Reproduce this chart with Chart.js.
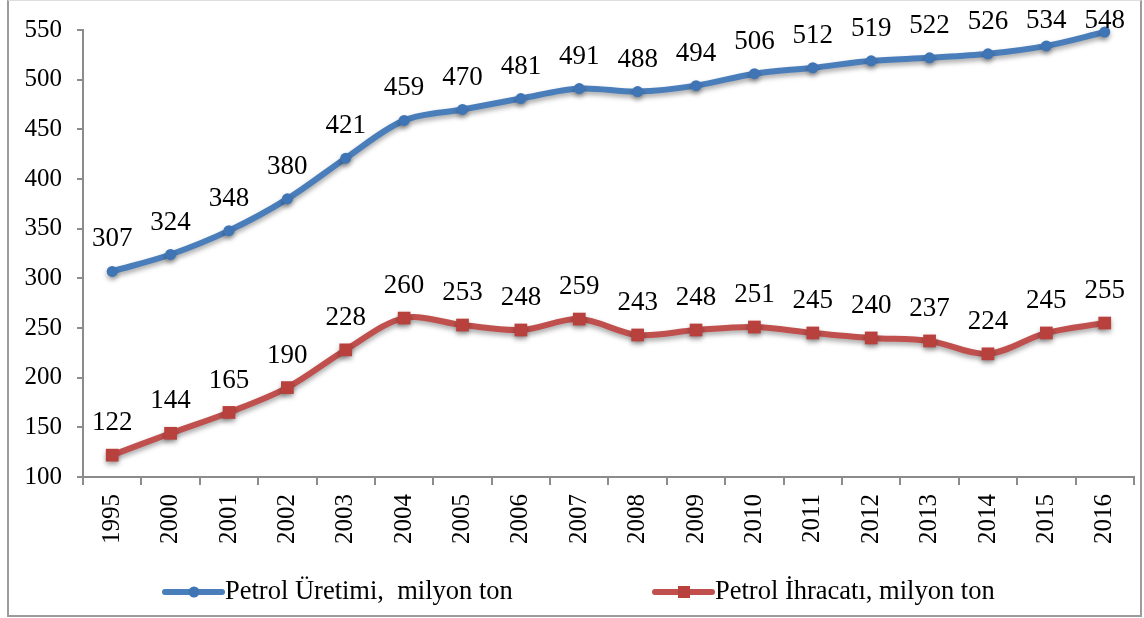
<!DOCTYPE html>
<html>
<head>
<meta charset="utf-8">
<script src="https://cdn.jsdelivr.net/npm/chart.js@4.4.1/dist/chart.umd.min.js"></script>
<style>
  html, body { margin: 0; padding: 0; background: #fff; }
  .frame {
    position: absolute; left: 7px; top: 0; width: 1131px; height: 614px;
    border: 2px solid #9c9c9c; border-top: 1px solid #dedede;
  }
  .wrap { position: absolute; left: 0; top: 0; width: 1144px; height: 618px; }
</style>
</head>
<body>
<div class="frame"></div>
<div class="wrap"><canvas id="chart"></canvas></div>
<script>
// data
const years = ['1995', '2000', '2001', '2002', '2003', '2004', '2005', '2006', '2007',
               '2008', '2009', '2010', '2011', '2012', '2013', '2014', '2015', '2016'];
const production = [307, 324, 348, 380, 421, 459, 470, 481, 491, 488, 494, 506, 512, 519, 522, 526, 534, 548];
const exportsOil = [122, 144, 165, 190, 228, 260, 253, 248, 259, 243, 248, 251, 245, 240, 237, 224, 245, 255];
const seriesNames = ['Petrol Üretimi,  milyon ton', 'Petrol İhracatı, milyon ton'];
const yTicks = { min: 100, max: 550, step: 50 };

const serif = '"Liberation Serif", "Times New Roman", serif';
const blue = '#4a7ebb';
const red = '#c0504d';
const axisGray = '#8c8c8c';

// soft shadow under lines, like the office chart
const shadowPlugin = {
    id: 'shadow',
    beforeDatasetDraw(chart) {
        const ctx = chart.ctx;
        ctx.save();
        ctx.shadowColor = 'rgba(0,0,0,0.35)';
        ctx.shadowBlur = 5;
        ctx.shadowOffsetY = 3;
    },
    afterDatasetDraw(chart) {
        chart.ctx.restore();
    }
};

// value labels above each point
const labelsPlugin = {
    id: 'valueLabels',
    afterDatasetsDraw(chart) {
        const ctx = chart.ctx;
        ctx.save();
        ctx.font = '27px ' + serif;
        ctx.fillStyle = '#000';
        ctx.textAlign = 'center';
        ctx.textBaseline = 'middle';
        chart.data.datasets.forEach((ds, i) => {
            chart.getDatasetMeta(i).data.forEach((pt, j) => {
                const y = Math.max(pt.y - 32, 21);
                ctx.fillText(String(ds.data[j]), pt.x, y);
            });
        });
        ctx.restore();
    }
};

// legend: line + marker sample, drawn at the bottom
const legendPlugin = {
    id: 'bottomLegend',
    afterDraw(chart) {
        const ctx = chart.ctx;
        const items = [
            { x: 165, color: blue, marker: 'circle' },
            { x: 655, color: red, marker: 'rect' }
        ];
        const y = 592;
        ctx.save();
        items.forEach((it, i) => {
            ctx.strokeStyle = it.color;
            ctx.lineWidth = 6;
            ctx.lineCap = 'round';
            ctx.beginPath();
            ctx.moveTo(it.x, y);
            ctx.lineTo(it.x + 57, y);
            ctx.stroke();
            const mx = it.x + 29;
            if (it.marker === 'circle') {
                ctx.fillStyle = '#3f74b5';
                ctx.beginPath();
                ctx.arc(mx, y, 5.5, 0, Math.PI * 2);
                ctx.fill();
            } else {
                ctx.fillStyle = '#b8403d';
                ctx.fillRect(mx - 6, y - 6, 12, 12);
            }
            ctx.fillStyle = '#000';
            ctx.font = '26.5px ' + serif;
            ctx.textAlign = 'left';
            ctx.textBaseline = 'middle';
            ctx.fillText(seriesNames[i], it.x + 60, y);
        });
        ctx.restore();
    }
};

new Chart(document.getElementById('chart'), {
    type: 'line',
    data: {
        labels: years,
        datasets: [
            {
                label: seriesNames[0],
                data: production,
                borderColor: blue,
                backgroundColor: '#3f74b5',
                borderWidth: 6,
                pointStyle: 'circle',
                pointRadius: 5.5,
                pointBorderWidth: 0,
                tension: 0.33,
                clip: false
            },
            {
                label: seriesNames[1],
                data: exportsOil,
                borderColor: red,
                backgroundColor: '#b8403d',
                borderWidth: 6,
                pointStyle: 'rect',
                pointRadius: 9,
                pointBorderWidth: 0,
                tension: 0.33,
                clip: false
            }
        ]
    },
    options: {
        responsive: true,
        maintainAspectRatio: false,
        animation: false,
        layout: { padding: { top: 29, right: 6, bottom: 0, left: 0 } },
        plugins: {
            legend: { display: false },
            tooltip: { enabled: false }
        },
        scales: {
            x: {
                offset: true,
                grid: { offset: true, drawOnChartArea: false, drawTicks: true, tickLength: 8, color: axisGray, lineWidth: 2 },
                border: { display: true, color: axisGray, width: 2 },
                ticks: {
                    color: '#000', font: { family: serif, size: 25 },
                    maxRotation: 90, minRotation: 90, padding: 9, autoSkip: false
                },
                afterFit(scale) { scale.height = 141; }
            },
            y: {
                min: yTicks.min,
                max: yTicks.max,
                grid: { drawOnChartArea: false, drawTicks: true, tickLength: 6, color: axisGray, lineWidth: 2 },
                border: { display: true, color: axisGray, width: 2 },
                ticks: { stepSize: yTicks.step, color: '#000', font: { family: serif, size: 25 }, padding: 15 },
                afterFit(scale) { scale.width = 83; }
            }
        }
    },
    plugins: [shadowPlugin, labelsPlugin, legendPlugin]
});
</script>
</body>
</html>
